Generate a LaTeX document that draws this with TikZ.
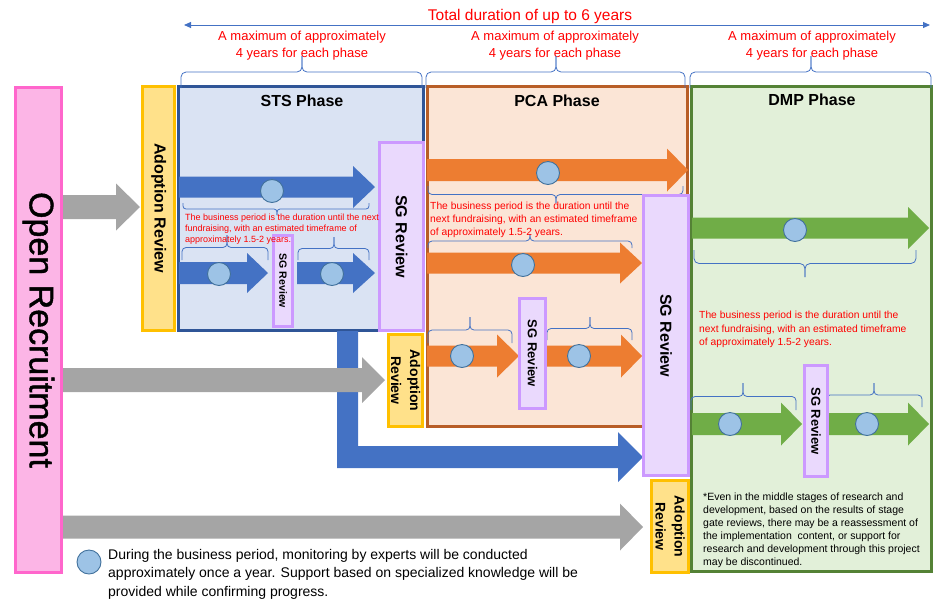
\documentclass[tikz,border=0pt]{standalone}
\usepackage{fontspec}
\setmainfont{Liberation Sans}
\newfontfamily\openfont[FakeBold=1.2]{Liberation Sans}
\usetikzlibrary{arrows.meta}
\definecolor{stsfill}{HTML}{DAE3F3}
\definecolor{stsline}{HTML}{2F5597}
\definecolor{pcafill}{HTML}{FBE5D6}
\definecolor{pcaline}{HTML}{B85E27}
\definecolor{dmpfill}{HTML}{E2F0D9}
\definecolor{dmpline}{HTML}{548235}
\definecolor{sgfill}{HTML}{EAD9FD}
\definecolor{sgline}{HTML}{CC99FF}
\definecolor{adfill}{HTML}{FFE18A}
\definecolor{adline}{HTML}{FFC000}
\definecolor{orfill}{HTML}{FCB5E6}
\definecolor{orline}{HTML}{FF66CC}
\definecolor{garrow}{HTML}{A5A5A5}
\definecolor{barrow}{HTML}{4472C4}
\definecolor{oarrow}{HTML}{ED7D31}
\definecolor{narrow}{HTML}{70AD47}
\definecolor{circfill}{HTML}{9DC3E6}
\definecolor{circline}{HTML}{41719C}
\definecolor{redtxt}{HTML}{FF0000}
% color, x0, xhead, xtip, ycenter, shaft half height, head half height
\newcommand\blockarr[7]{%
  \fill[#1] (#2,{#5-#6}) -- (#3,{#5-#6}) -- (#3,{#5-#7}) -- (#4,#5) -- (#3,{#5+#7}) -- (#3,{#5+#6}) -- (#2,{#5+#6}) -- cycle;}
% x1, x2, xmid, yends, ytip, corner radius
\newcommand\pbrace[6]{%
  \draw[brc, rounded corners=#6pt] (#1,#4) -- (#1,{(#4+#5)/2}) -- (#3,{(#4+#5)/2}) -- (#3,#5);
  \draw[brc, rounded corners=#6pt] (#2,#4) -- (#2,{(#4+#5)/2}) -- (#3,{(#4+#5)/2}) -- (#3,#5);}
\begin{document}
\begin{tikzpicture}[x=1pt,y=-1pt,
  phasebox/.style={line width=3pt, inner sep=0pt},
  ttl/.style={font=\bfseries\fontsize{16}{19}\selectfont, inner sep=0pt},
  sgbox/.style={draw=sgline, fill=sgfill, line width=3pt, inner sep=0pt, rotate=-90, font=\bfseries},
  adbox/.style={draw=adline, fill=adfill, line width=3pt, inner sep=0pt, rotate=-90, font=\bfseries, align=center},
  mon/.style={circle, draw=circline, fill=circfill, line width=0.9pt, minimum size=23pt, inner sep=0pt},
  brc/.style={draw=barrow, line width=0.8pt},
  redt/.style={text=redtxt, inner sep=0pt, align=left, anchor=north west},
  toptxt/.style={text=redtxt, inner sep=0pt, align=center, anchor=north, font=\fontsize{13}{17}\selectfont}
]
\useasboundingbox (0,0) rectangle (952,606);

% phase boxes
\node[phasebox, draw=stsline, fill=stsfill, minimum width=245pt, minimum height=244pt] (sts) at (300.5,208.5) {};
\node[phasebox, draw=pcaline, fill=pcafill, minimum width=260pt, minimum height=340pt] (pca) at (557.5,256.5) {};
\node[phasebox, draw=dmpline, fill=dmpfill, minimum width=240pt, minimum height=485pt] (dmp) at (811.5,329) {};
\node[ttl] (stst) at (302,101) {STS Phase};
\node[ttl] (pcat) at (557,101) {PCA Phase};
\node[ttl] (dmpt) at (812,100) {DMP Phase};

% top annotations
\node[text=redtxt, inner sep=0pt, font=\fontsize{15.5}{18}\selectfont] (total) at (530,16) {Total duration of up to 6 years};
\coordinate (tdl) at (184,25);
\coordinate (tdr) at (930,25);
\draw[barrow, line width=1pt, {Triangle[length=7pt,width=6pt]}-{Triangle[length=7pt,width=6pt]}] (tdl) -- (tdr);
\node[toptxt] (max1) at (302,31) {A maximum of approximately\\4 years for each phase};
\node[toptxt] (max2) at (555,31) {A maximum of approximately\\4 years for each phase};
\node[toptxt] (max3) at (812,31) {A maximum of approximately\\4 years for each phase};
\pbrace{181}{422}{302}{88}{56}{5}
\pbrace{426}{685}{556}{88}{56}{5}
\pbrace{690}{931}{811}{88}{56}{5}

% STS arrows
\blockarr{barrow}{179}{353}{375}{187}{10.5}{21}
\blockarr{barrow}{179}{247}{268}{273}{11}{20}
\blockarr{barrow}{297}{353}{375}{273}{11}{20}
% PCA arrows
\blockarr{oarrow}{427}{667}{688}{170}{11}{21.5}
\blockarr{oarrow}{427}{620}{642}{263}{10.5}{20.5}
\blockarr{oarrow}{427}{497}{519}{356}{10.5}{21.5}
\blockarr{oarrow}{546}{621}{642}{356}{10.5}{21.5}
% DMP arrows
\blockarr{narrow}{692}{908}{929}{228}{10.5}{21}
\blockarr{narrow}{692}{781}{802}{424}{11}{21.5}
\blockarr{narrow}{828}{908}{929}{424}{11}{21.5}

% L-shaped blue arrow
\fill[barrow] (337,331) -- (358,331) -- (358,446) -- (618,446) -- (618,432) -- (643,457) -- (618,482) -- (618,468) -- (337,468) -- cycle;
% gray arrows
\blockarr{garrow}{63}{116}{140}{207}{12}{23.5}
\blockarr{garrow}{63}{362}{385}{380}{12}{23}
\blockarr{garrow}{63}{620}{643}{527}{11.5}{23.5}

% monitoring circles
\node[mon] (c1) at (272,191) {};
\node[mon] (c2) at (219,274) {};
\node[mon] (c3) at (332,274) {};
\node[mon] (c4) at (548,173) {};
\node[mon] (c5) at (523,265) {};
\node[mon] (c6) at (462,356) {};
\node[mon] (c7) at (579,356) {};
\node[mon] (c8) at (795,230) {};
\node[mon] (c9) at (730,424) {};
\node[mon] (c10) at (867,424) {};

% braces inside phases
\pbrace{183}{369}{277}{203}{215}{3}
\pbrace{182}{268}{227}{260}{235}{4}
\pbrace{298}{369}{334}{260}{237}{4}
\pbrace{428}{683}{556}{186}{203}{4}
\pbrace{428}{632}{530}{248}{234}{4}
\pbrace{428}{512}{470}{343}{317}{4}
\pbrace{547}{632}{590}{340}{317}{4}
\pbrace{694}{916}{805}{250}{277}{5}
\pbrace{691}{796}{743}{410}{383}{4}
\pbrace{826}{922}{874}{407}{383}{4}

% review boxes
\node[sgbox, minimum width=188pt, minimum height=44pt, font=\bfseries\fontsize{16}{19}\selectfont] (sg1) at (401.5,236.5) {SG Review};
\node[sgbox, minimum width=91pt, minimum height=19pt, font=\bfseries\fontsize{10.5}{12}\selectfont] (sg1s) at (283,281) {SG Review};
\node[sgbox, minimum width=280pt, minimum height=45pt, font=\bfseries\fontsize{16}{19}\selectfont] (sg2) at (666,335.5) {SG Review};
\node[sgbox, minimum width=110pt, minimum height=26pt, font=\bfseries\fontsize{13}{15}\selectfont] (sg2s) at (532.5,353.5) {SG Review};
\node[sgbox, minimum width=111pt, minimum height=23pt, font=\bfseries\fontsize{13}{15}\selectfont] (sg3s) at (816,421) {SG Review};

\node[adbox, minimum width=244pt, minimum height=31.5pt, font=\bfseries\fontsize{16}{19}\selectfont] (ad1) at (158.7,208) {Adoption Review};
\node[adbox, minimum width=92pt, minimum height=34pt, font=\bfseries\fontsize{14}{19}\selectfont] (ad2) at (405.5,380.5) {Adoption\\Review};
\node[adbox, minimum width=92pt, minimum height=37pt, font=\bfseries\fontsize{14}{19}\selectfont] (ad3) at (670,526.5) {Adoption\\Review};

\node[draw=orline, fill=orfill, line width=3pt, inner sep=0pt, rotate=-90, minimum width=485pt, minimum height=46pt, font=\openfont\fontsize{34}{40}\selectfont] (open) at (38.5,330) {Open Recruitment};

% red explanatory texts
\node[redt, font=\fontsize{9}{11}\selectfont] (r1) at (185,213.7) {The business period is the duration until the next\\fundraising, with an estimated timeframe of\\approximately 1.5-2 years.};
\node[redt, font=\fontsize{10.3}{13}\selectfont] (r2) at (430,202.2) {The business period is the duration until the\\next fundraising, with an estimated timeframe\\of approximately 1.5-2 years.};
\node[redt, font=\fontsize{10.3}{13.3}\selectfont] (r3) at (699,311.2) {The business period is the duration until the\\next fundraising, with an estimated timeframe\\of approximately 1.5-2 years.};

% note
\node[inner sep=0pt, align=left, anchor=north west, font=\fontsize{10.5}{12.9}\selectfont] (note) at (703,493.1) {*Even in the middle stages of research and\\development, based on the results of stage\\gate reviews, there may be a reassessment of\\the implementation\ \ content, or support for\\research and development through this project\\may be discontinued.};

% legend
\node[mon, minimum size=24pt] (lc) at (89,562) {};
\node[inner sep=0pt, align=left, anchor=north west, font=\fontsize{14}{18.5}\selectfont] (leg) at (108,549) {During the business period, monitoring by experts will be conducted\\approximately once a year. Support based on specialized knowledge will be\\provided while confirming progress.};
\end{tikzpicture}
\end{document}
